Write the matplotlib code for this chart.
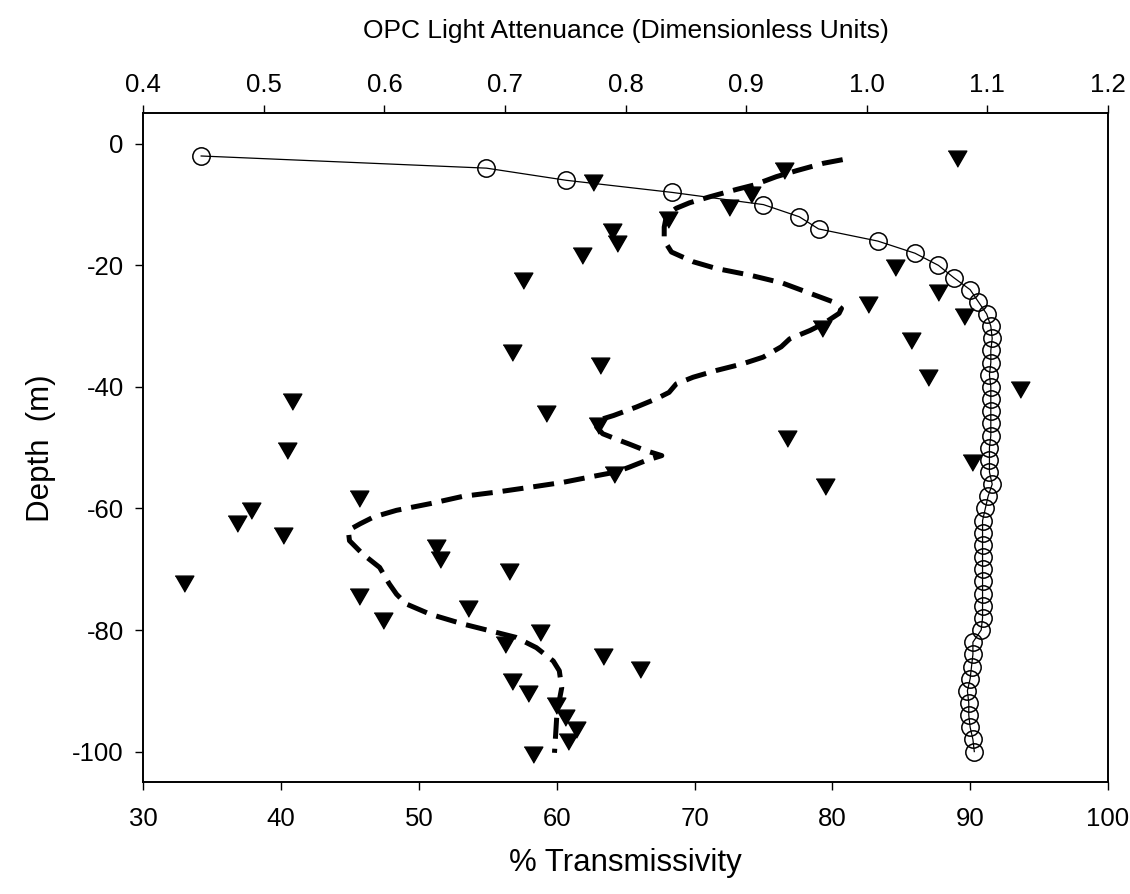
import numpy as np
import matplotlib
matplotlib.use("Agg")
import matplotlib.pyplot as plt

plt.rcParams['font.family'] = ['Liberation Sans', 'DejaVu Sans']
plt.rcParams['axes.unicode_minus'] = False

# % transmissivity profile (open circles), every 2 m
trans_depth = list(range(-2, -102, -2))
trans_pct = [34.2, 54.9, 60.7, 68.4, 75.0, 77.6, 79.0, 83.3, 86.0, 87.7,
             88.8, 90.0, 90.6, 91.2, 91.5, 91.6, 91.5, 91.5, 91.4, 91.5,
             91.5, 91.5, 91.5, 91.5, 91.4, 91.4, 91.4, 91.6, 91.3, 91.1,
             90.9, 90.9, 90.9, 90.9, 90.9, 90.9, 90.9, 90.9, 90.9, 90.8,
             90.2, 90.2, 90.1, 90.0, 89.8, 89.9, 89.9, 90.0, 90.2, 90.3]

# OPC light attenuance samples (filled triangles), every 2 m
opc_depth = list(range(-2, -102, -2))
opc_att = [1.075, 0.931, 0.773, 0.904, 0.886, 0.835, 0.789, 0.793, 0.764, 1.023,
           0.715, 1.059, 1.001, 1.081, 0.963, 1.037, 0.706, 0.779, 1.051, 1.127,
           0.523, 0.734, 0.777, 0.934, 0.519, 1.087, 0.790, 0.965, 0.579, 0.489,
           0.478, 0.516, 0.643, 0.646, 0.703, 0.434, 0.579, 0.669, 0.599, 0.729,
           0.700, 0.781, 0.812, 0.706, 0.719, 0.742, 0.750, 0.759, 0.752, 0.723]

# smoothed OPC curve (dashed)
smooth_att = [0.980, 0.964, 0.942, 0.925, 0.906, 0.892, 0.870, 0.853, 0.842, 0.834,
              0.832, 0.832, 0.838, 0.856, 0.875, 0.903, 0.930, 0.953, 0.972, 0.979,
              0.977, 0.964, 0.953, 0.936, 0.929, 0.914, 0.897, 0.875, 0.856, 0.842,
              0.836, 0.826, 0.809, 0.790, 0.777, 0.776, 0.781, 0.795, 0.803, 0.817,
              0.830, 0.817, 0.803, 0.792, 0.776, 0.748, 0.721, 0.693, 0.665, 0.638,
              0.610, 0.591, 0.580, 0.570, 0.571, 0.582, 0.596, 0.604, 0.610, 0.618,
              0.638, 0.665, 0.693, 0.709, 0.726, 0.740, 0.745, 0.747, 0.745, 0.743,
              0.742, 0.741]
smooth_depth = [-2.6, -3.2, -4.4, -5.4, -6.8, -7.5, -8.7, -9.7, -10.6, -11.7,
                -13.7, -15.9, -17.8, -19.4, -20.5, -21.6, -22.9, -24.6, -26.0, -27.1,
                -27.9, -29.6, -30.7, -32.1, -33.4, -35.1, -36.2, -37.3, -38.4, -39.5,
                -40.9, -41.9, -43.3, -44.7, -45.5, -46.6, -47.7, -48.8, -49.4, -50.5,
                -51.3, -52.1, -53.2, -54.0, -54.6, -55.7, -56.5, -57.3, -58.0, -59.2,
                -60.3, -61.4, -62.5, -63.6, -65.3, -67.5, -69.7, -72.4, -74.1, -75.7,
                -77.4, -79.0, -80.4, -81.2, -82.9, -85.1, -86.7, -89.5, -91.6, -93.8,
                -97.1, -100.2]

tri = [(-1, 0.5774), (1, 0.5774), (0, -1.1547)]

fig = plt.figure(figsize=(11.3, 8.94), dpi=100)
ax = fig.add_axes([0.1268, 0.1253, 0.8537, 0.7478])
ax2 = ax.twiny()

ax.plot(trans_pct, trans_depth, color='black', lw=0.9, marker='o', ms=12.5,
        mfc='none', mec='black', mew=1.1, zorder=3)

ax2.plot(smooth_att, smooth_depth, color='black', lw=3.6, dashes=(4.2, 2.0),
         solid_capstyle='butt', zorder=2)
ax2.plot(opc_att, opc_depth, ls='none', marker=tri, ms=15.5, color='black',
         mec='black', zorder=4)

ax.set_xlim(30, 100)
ax.set_xticks(np.arange(30, 101, 10))
ax.set_ylim(-105, 5)
ax.set_yticks(np.arange(-100, 1, 20))
ax2.set_xlim(0.4, 1.2)
ax2.set_xticks(np.arange(0.4, 1.21, 0.1))
ax2.set_xticklabels(['%.1f' % v for v in np.arange(0.4, 1.21, 0.1)])

for a in (ax, ax2):
    for s in a.spines.values():
        s.set_linewidth(1.2)

ax.tick_params(axis='both', direction='out', length=6, width=1, labelsize=18.5,
               right=False, top=False)
ax.tick_params(axis='x', pad=12)
ax.tick_params(axis='y', pad=8)
ax2.tick_params(axis='x', direction='out', length=6, width=1, labelsize=18.5, pad=6)

ax.set_xlabel('% Transmissivity', fontsize=22.5, labelpad=12)
ax.set_ylabel('Depth  (m)', fontsize=22.5, labelpad=12)
ax2.set_xlabel('OPC Light Attenuance (Dimensionless Units)', fontsize=19, labelpad=25)

fig.savefig('out.png', dpi=100)
